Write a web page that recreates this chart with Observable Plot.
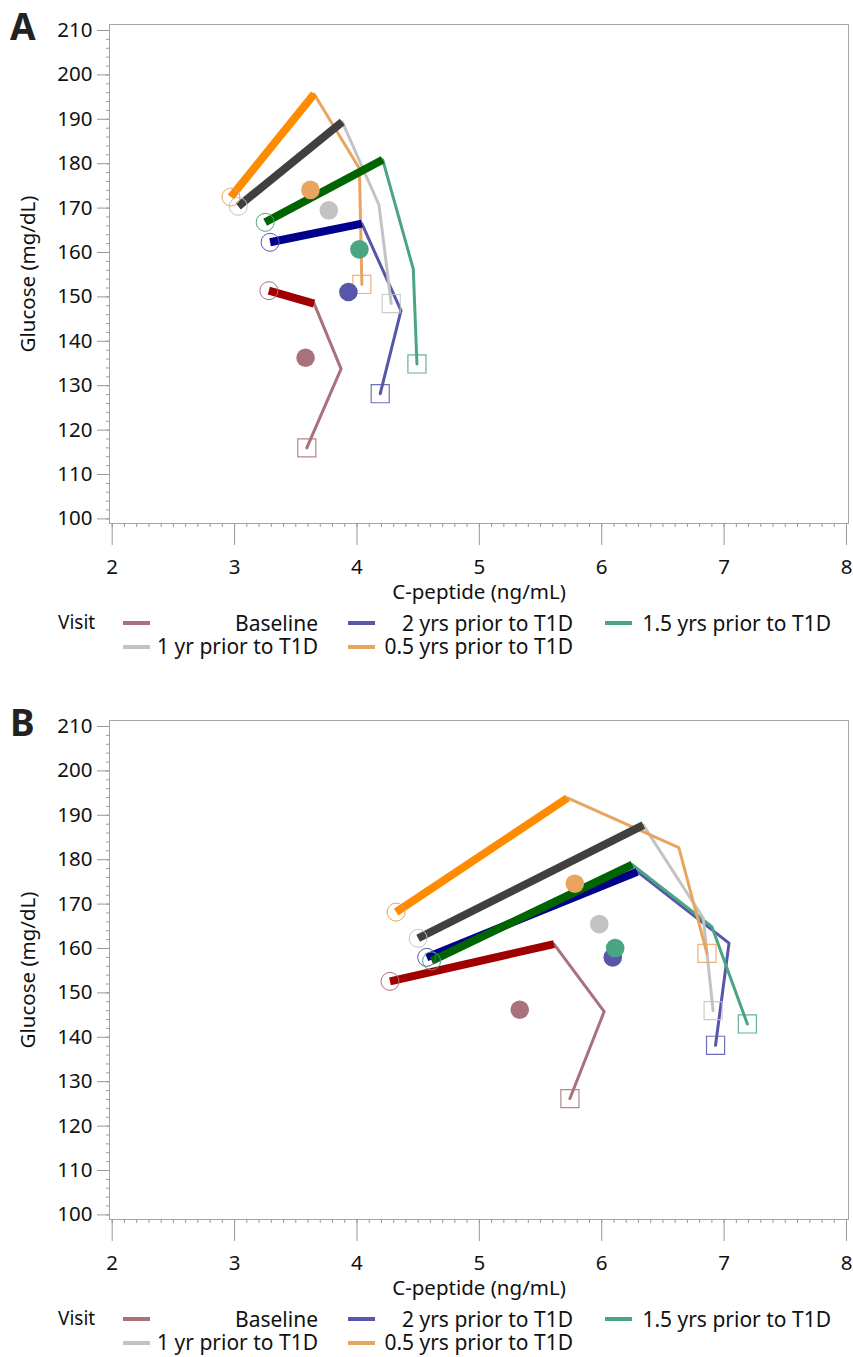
<!DOCTYPE html>
<html>
<head>
<meta charset="utf-8">
<script src="https://cdn.jsdelivr.net/npm/d3@7"></script>
<script src="https://cdn.jsdelivr.net/npm/@observablehq/plot@0.6"></script>
<style>
  body { margin: 0; background: #fff; font-family: "Noto Sans", sans-serif; color: #111; }
  #root { position: relative; width: 853px; height: 1357px; overflow: hidden; }
  .panel { position: absolute; left: 0; width: 853px; height: 680px; }
  .panel svg { position: absolute; left: 0; top: 0; }
  .tag { position: absolute; left: 10px; top: 7px; font-weight: bold; font-size: 37px; line-height: 1; color: #222; }
  .legend-title { position: absolute; left: 58px; font-size: 19px; line-height: 19px; height: 19px; display: block; }
  .item { position: absolute; display: flex; align-items: center; justify-content: space-between; height: 21px; }
  .sw { display: block; width: 27px; height: 4px; flex: none; }
  .lab { display: block; font-size: 21px; line-height: 21px; height: 21px; white-space: nowrap; }
</style>
</head>
<body>
<div id="root"></div>
<script>
// ---- data ----
const visits = ["Baseline", "2 yrs prior to T1D", "1.5 yrs prior to T1D", "1 yr prior to T1D", "0.5 yrs prior to T1D"];
const thinColors = ["#a8717b", "#5656aa", "#49a583", "#c3c3c3", "#e9a560"];
const thickColors = ["#a00000", "#00008c", "#006400", "#404040", "#ff8c00"];

// Panel A: OGTT trajectory points (start circle, early peak, mid, end square)
const cpeptideA = [
  [3.28, 3.65, 3.87, 3.59],
  [3.29, 4.04, 4.36, 4.19],
  [3.25, 4.21, 4.46, 4.49],
  [3.03, 3.88, 4.18, 4.28],
  [2.97, 3.65, 4.02, 4.04]
];
const glucoseA = [
  [151.4, 148.5, 133.8, 116.0],
  [162.3, 166.5, 146.9, 128.2],
  [166.8, 180.9, 156.3, 134.9],
  [170.4, 189.4, 170.7, 148.5],
  [172.5, 195.7, 178.9, 152.8]
];
const meanCpeptideA = [3.58, 3.93, 4.02, 3.77, 3.62];
const meanGlucoseA = [136.3, 151.1, 160.7, 169.5, 174.1];

// Panel B
const cpeptideB = [
  [4.27, 5.61, 6.02, 5.74],
  [4.57, 6.29, 7.04, 6.93],
  [4.61, 6.25, 6.90, 7.19],
  [4.50, 6.34, 6.83, 6.91],
  [4.32, 5.72, 6.63, 6.86]
];
const glucoseB = [
  [152.6, 161.0, 145.8, 126.2],
  [158.0, 177.3, 161.2, 138.2],
  [157.2, 178.9, 164.9, 143.0],
  [162.3, 187.8, 166.8, 146.0],
  [168.2, 193.9, 182.7, 158.9]
];
const meanCpeptideB = [5.33, 6.09, 6.11, 5.98, 5.78];
const meanGlucoseB = [146.2, 158.0, 160.1, 165.5, 174.6];

const xMajor = [2, 3, 4, 5, 6, 7, 8];
const xMinor = d3.range(20, 81).map(v => v / 10);
const yMajor = d3.range(100, 211, 10);
const yMinor = d3.range(100, 211, 2);
const panelLetters = ["A", "B"];

// ---- drawing ----
function makePlot(cp, gl, mcp, mgl) {
  const rows = [];
  visits.forEach((v, i) => cp[i].forEach((x, j) => rows.push({visit: v, vi: i, step: j, x, y: gl[i][j]})));
  const means = visits.map((v, i) => ({visit: v, vi: i, x: mcp[i], y: mgl[i]}));
  const last = d3.max(rows, d => d.step);
  const fmt = d3.format("d");
  return Plot.plot({
    width: 853, height: 605,
    marginTop: 24, marginBottom: 82, marginLeft: 109, marginRight: 5,
    x: {domain: [2, 8], range: [111.7, 846], labelArrow: "none"},
    y: {domain: [100, 210], range: [518.4, 30], labelArrow: "none"},
    style: {fontFamily: '"Noto Sans", sans-serif', fontSize: "20.5px", color: "#111", background: "#fff", overflow: "visible"},
    marks: [
      Plot.frame({stroke: "#a6a6a6"}),
      Plot.axisY(yMinor, {tickSize: 3, tickFormat: () => "", label: null, stroke: "#9a9a9a"}),
      Plot.axisY(yMajor, {tickSize: 12, tickPadding: 5, tickFormat: fmt, stroke: "#9a9a9a", label: "Glucose (mg/dL)", labelAnchor: "center", labelOffset: 89, labelArrow: "none"}),
      Plot.axisX(xMinor, {tickSize: 4, tickFormat: () => "", label: null, stroke: "#9a9a9a"}),
      Plot.axisX(xMajor, {tickSize: 22, tickPadding: 14, tickFormat: fmt, stroke: "#9a9a9a", label: "C-peptide (ng/mL)", labelAnchor: "center", labelOffset: 75, labelArrow: "none"}),
      Plot.line(rows.filter(d => d.step >= 1), {x: "x", y: "y", z: "visit", stroke: d => thinColors[d.vi], strokeWidth: 3}),
      Plot.line(rows.filter(d => d.step <= 1), {x: "x", y: "y", z: "visit", stroke: d => thickColors[d.vi], strokeWidth: 8, strokeLinecap: "butt"}),
      Plot.dot(rows.filter(d => d.step === 0), {x: "x", y: "y", r: 9, symbol: "circle", fill: "none", stroke: d => thinColors[d.vi], strokeWidth: 1}),
      Plot.dot(rows.filter(d => d.step === last), {x: "x", y: "y", r: 10.2, symbol: "square", fill: "none", stroke: d => thinColors[d.vi], strokeWidth: 1.2, strokeOpacity: 0.85}),
      Plot.dot(means, {x: "x", y: "y", r: 9.3, fill: d => thinColors[d.vi], stroke: "none"})
    ]
  });
}

function makeLegend(panel) {
  const title = document.createElement("div");
  title.className = "legend-title";
  title.style.top = "613px";
  title.textContent = "Visit";
  panel.appendChild(title);
  const cols = [[123, 318], [348, 573], [605, 831]];
  const rowTops = [612.5, 636];
  visits.forEach((v, i) => {
    const c = cols[i % 3], r = rowTops[Math.floor(i / 3)];
    const it = document.createElement("div");
    it.className = "item";
    it.style.left = c[0] + "px";
    it.style.width = (c[1] - c[0]) + "px";
    it.style.top = r + "px";
    const sw = document.createElement("span");
    sw.className = "sw";
    sw.style.background = thinColors[i];
    const lab = document.createElement("span");
    lab.className = "lab";
    lab.textContent = v;
    it.appendChild(sw);
    it.appendChild(lab);
    panel.appendChild(it);
  });
}

const root = document.getElementById("root");
const specs = [
  [cpeptideA, glucoseA, meanCpeptideA, meanGlucoseA, 0],
  [cpeptideB, glucoseB, meanCpeptideB, meanGlucoseB, 696]
];
specs.forEach(([cp, gl, mcp, mgl, top], k) => {
  const panel = document.createElement("div");
  panel.className = "panel";
  panel.style.top = top + "px";
  panel.appendChild(makePlot(cp, gl, mcp, mgl));
  const tag = document.createElement("div");
  tag.className = "tag";
  tag.textContent = panelLetters[k];
  panel.appendChild(tag);
  makeLegend(panel);
  root.appendChild(panel);
});
</script>
</body>
</html>
